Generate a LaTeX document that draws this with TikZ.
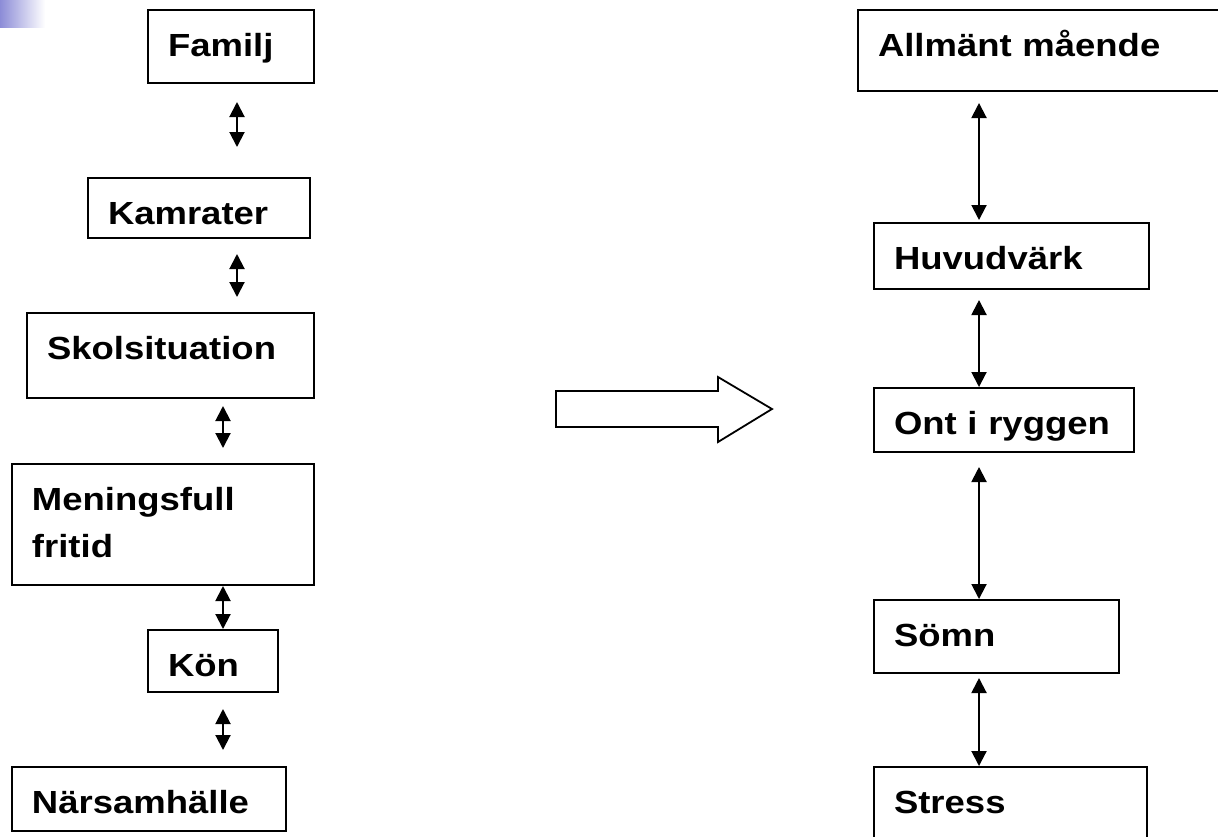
\documentclass[tikz,border=0pt]{standalone}
\usepackage{fontspec}
\setmainfont[FakeStretch=1.14]{Liberation Sans}
\usetikzlibrary{arrows.meta}
\definecolor{lila}{RGB}{140,140,215}

\begin{document}
\begin{tikzpicture}[x=0.5pt,y=-0.5pt,
ruta/.style={draw,line width=1pt,anchor=north west,align=left,inner xsep=10pt,inner ysep=0pt,text height=23pt,font=\bfseries\fontsize{16}{23.5}\selectfont},
pil/.style={{Triangle[length=7.5pt,width=7.5pt]}-{Triangle[length=7.5pt,width=7.5pt]},line width=1pt},
stor/.style={line width=0.9pt,fill=white}
]
\useasboundingbox (0,0) rectangle (1218,836);
\shade[left color=lila,right color=white] (0,0) rectangle (45,27);
\coordinate (xl) at (237,0);
\coordinate (xm) at (223,0);
\coordinate (xr) at (979,0);
%-- vänster kolumn
\node[ruta,text width=63pt,text depth=13.5pt] (fam) at (147,9) {Familj};
\node[ruta,text width=91pt,text depth=7pt] (kam) at (87,177) {Kamrater};
\node[ruta,text width=123.5pt,text depth=19.5pt] (skol) at (26,312) {Skolsituation};
\node[ruta,text width=131pt,text depth=37.5pt] (fri) at (11,463) {Meningsfull\\fritid};
\node[ruta,text width=45pt,text depth=8pt] (kon) at (147,629) {Kön};
\node[ruta,text width=117pt,text depth=9pt] (nar) at (11,766) {Närsamhälle};
%--
\draw[pil,shorten <=9pt,shorten >=15pt] (fam.south -| xl) -- (kam.north -| xl);
\draw[pil,shorten <=7.5pt,shorten >=7.5pt] (kam.south -| xl) -- (skol.north -| xl);
\draw[pil,shorten <=3.5pt,shorten >=7.5pt] (skol.south -| xm) -- (fri.north -| xm);
\draw[pil] (fri.south -| xm) -- (kon.north -| xm);
\draw[pil,shorten <=8pt,shorten >=8pt] (kon.south -| xm) -- (nar.north -| xm);
%-- stor pil
\draw[stor] (556,391) -- (718,391) -- (718,377) -- (772,409) -- (718,442) -- (718,427) -- (556,427) -- cycle;
%-- höger kolumn
\node[ruta,text width=170pt,text depth=17.5pt] (allm) at (857,9) {Allmänt mående};
\node[ruta,text width=117.5pt,text depth=10pt] (huv) at (873,222) {Huvudvärk};
\node[ruta,text width=110pt,text depth=9pt] (ont) at (873,387) {Ont i ryggen};
\node[ruta,text width=102.5pt,text depth=13.5pt] (somn) at (873,599) {Sömn};
\node[ruta,text width=116.5pt,text depth=27pt] (stress) at (873,766) {Stress};
%--
\draw[pil,shorten <=5.5pt,shorten >=1pt] (allm.south -| xr) -- (huv.north -| xr);
\draw[pil,shorten <=5pt] (huv.south -| xr) -- (ont.north -| xr);
\draw[pil,shorten <=7pt] (ont.south -| xr) -- (somn.north -| xr);
\draw[pil,shorten <=2pt] (somn.south -| xr) -- (stress.north -| xr);
\end{tikzpicture}
\end{document}
